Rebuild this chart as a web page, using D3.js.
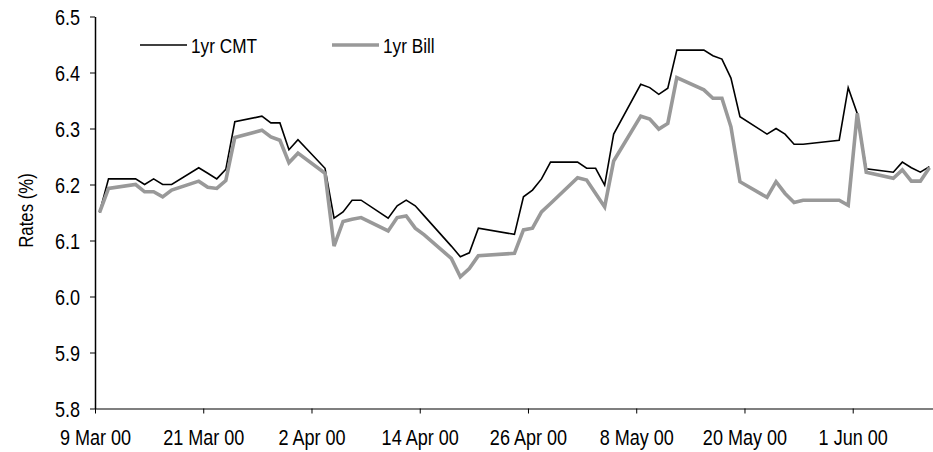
<!DOCTYPE html>
<html>
<head>
<meta charset="utf-8">
<script src="https://cdn.jsdelivr.net/npm/d3@7/dist/d3.min.js"></script>
<style>
  html, body { margin: 0; padding: 0; background: #fff; }
  svg { display: block; }
  text { font-family: "Liberation Sans Narrow", "Arial Narrow", "Liberation Sans", Arial, sans-serif; fill: #000; }
</style>
</head>
<body>
<svg id="chart" width="933" height="452"></svg>
<script>
// ---- data ----
const dates = ["2000-03-09","2000-03-10","2000-03-13","2000-03-14","2000-03-15","2000-03-16","2000-03-17",
  "2000-03-20","2000-03-21","2000-03-22","2000-03-23","2000-03-24","2000-03-27","2000-03-28","2000-03-29",
  "2000-03-30","2000-03-31","2000-04-03","2000-04-04","2000-04-05","2000-04-06","2000-04-07","2000-04-10",
  "2000-04-11","2000-04-12","2000-04-13","2000-04-14","2000-04-17","2000-04-18","2000-04-19","2000-04-20",
  "2000-04-24","2000-04-25","2000-04-26","2000-04-27","2000-04-28","2000-05-01","2000-05-02","2000-05-03",
  "2000-05-04","2000-05-05","2000-05-08","2000-05-09","2000-05-10","2000-05-11","2000-05-12","2000-05-15",
  "2000-05-16","2000-05-17","2000-05-18","2000-05-19","2000-05-22","2000-05-23","2000-05-24","2000-05-25",
  "2000-05-26","2000-05-30","2000-05-31","2000-06-01","2000-06-02","2000-06-05","2000-06-06","2000-06-07",
  "2000-06-08","2000-06-09"];
const cmt = [6.15,6.21,6.21,6.20,6.21,6.20,6.20,
  6.23,6.22,6.21,6.227,6.312,6.322,6.31,6.31,
  6.262,6.28,6.229,6.14,6.151,6.172,6.172,6.14,
  6.162,6.172,6.162,6.144,6.09,6.071,6.078,6.122,
  6.111,6.178,6.19,6.21,6.24,6.24,6.229,6.229,
  6.199,6.29,6.379,6.373,6.361,6.372,6.44,6.44,
  6.43,6.424,6.39,6.321,6.29,6.30,6.29,6.272,
  6.272,6.279,6.373,6.327,6.228,6.222,6.24,6.23,
  6.222,6.232];
const bill = [6.15,6.193,6.20,6.187,6.187,6.178,6.19,
  6.206,6.195,6.193,6.207,6.284,6.297,6.285,6.279,
  6.239,6.256,6.22,6.09,6.134,6.138,6.141,6.117,
  6.141,6.144,6.122,6.11,6.068,6.035,6.05,6.073,
  6.077,6.119,6.122,6.151,6.166,6.212,6.208,6.184,
  6.16,6.242,6.322,6.317,6.299,6.309,6.391,6.369,
  6.354,6.354,6.303,6.205,6.177,6.205,6.184,6.168,
  6.172,6.172,6.163,6.327,6.222,6.211,6.226,6.206,
  6.206,6.23];
const seriesNames = ["1yr CMT", "1yr Bill"];
const xTickDates = ["2000-03-09","2000-03-21","2000-04-02","2000-04-14","2000-04-26","2000-05-08","2000-05-20","2000-06-01"];
const yTicks = [5.8,5.9,6.0,6.1,6.2,6.3,6.4,6.5];
const xDomain = ["2000-03-09","2000-06-10"];
const yDomain = [5.8, 6.5];
const yTitle = "Rates (%)";

(function draw() {
  const svg = d3.select("#chart");
  const parse = d3.utcParse("%Y-%m-%d");
  const mLeft = 95, mRight = 933.9, mTop = 16.5, mBottom = 408.5;
  const HALF_DAY = 12 * 3600 * 1000;
  const SQ = 0.82; // narrow-font emulation

  function squeeze(sel, k) {
    sel.each(function () {
      const L = this.getComputedTextLength();
      d3.select(this).attr("textLength", L * k).attr("lengthAdjust", "spacingAndGlyphs");
    });
  }

  const x = d3.scaleUtc().domain(xDomain.map(parse)).range([mLeft, mRight]);
  const y = d3.scaleLinear().domain(yDomain).range([mBottom, mTop]);
  const fmtTick = d3.utcFormat("%-d %b %y");

  const xAxis = d3.axisBottom(x)
    .tickValues(xTickDates.map(parse))
    .tickFormat(fmtTick)
    .tickSizeOuter(0).tickSizeInner(5).tickPadding(8);
  const gx = svg.append("g").attr("transform", `translate(0,${mBottom})`).call(xAxis);
  gx.attr("font-family", null);
  gx.select(".domain").attr("stroke", "#000").attr("stroke-width", 1.2);
  gx.selectAll(".tick line").attr("stroke", "#000");
  gx.selectAll(".tick text").attr("font-size", 22).attr("y", 36.5).attr("dy", 0).attr("fill", "#000")
    .call(squeeze, SQ);

  const yAxis = d3.axisLeft(y)
    .tickValues(yTicks)
    .tickFormat(d3.format(".1f"))
    .tickSizeOuter(0).tickSizeInner(5).tickPadding(10);
  const gy = svg.append("g").attr("transform", `translate(${mLeft},0)`).call(yAxis);
  gy.attr("font-family", null);
  gy.select(".domain").attr("stroke", "#000").attr("stroke-width", 1.5);
  gy.selectAll(".tick line").attr("stroke", "#000");
  gy.selectAll(".tick text").attr("font-size", 22).attr("dy", "0.36em").attr("fill", "#000")
    .call(squeeze, SQ);

  svg.append("text")
    .attr("transform", `translate(33,210.5) rotate(-90)`)
    .attr("text-anchor", "middle")
    .attr("font-size", 20)
    .text(yTitle)
    .call(squeeze, 0.84);

  const rows = dates.map((d, i) => ({ date: new Date(parse(d).getTime() + HALF_DAY), cmt: cmt[i], bill: bill[i] }));
  const lineCmt = d3.line().x(d => x(d.date)).y(d => y(d.cmt));
  const lineBill = d3.line().x(d => x(d.date)).y(d => y(d.bill));

  svg.append("path").datum(rows)
    .attr("d", lineCmt).attr("fill", "none").attr("stroke", "#000").attr("stroke-width", 1.6);
  svg.append("path").datum(rows)
    .attr("d", lineBill).attr("fill", "none").attr("stroke", "#999999").attr("stroke-width", 3.6);

  const legend = [
    { name: seriesNames[0], color: "#000", width: 1.6, x0: 140 },
    { name: seriesNames[1], color: "#999999", width: 3.6, x0: 332 }
  ];
  const lg = svg.append("g");
  legend.forEach(l => {
    lg.append("line").attr("x1", l.x0).attr("x2", l.x0 + 47).attr("y1", 45).attr("y2", 45)
      .attr("stroke", l.color).attr("stroke-width", l.width);
    lg.append("text").attr("x", l.x0 + 51).attr("y", 53).attr("font-size", 21).text(l.name)
      .call(squeeze, SQ);
  });
})();
</script>
</body>
</html>
